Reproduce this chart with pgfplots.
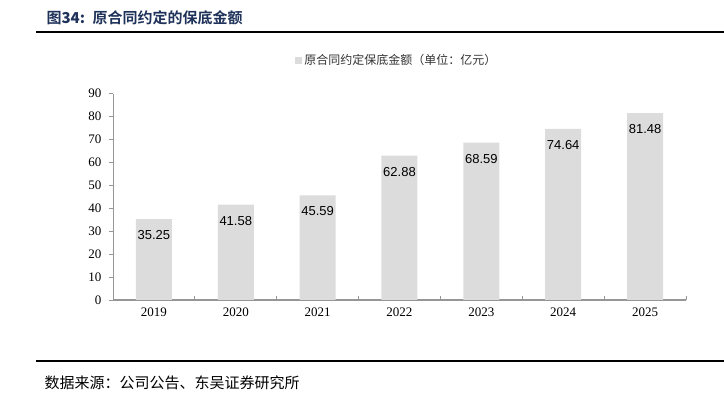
\documentclass[border=0pt]{standalone}
\usepackage{fontspec}
\usepackage{pgfplots}
\pgfplotsset{compat=1.18}
\setmainfont{Liberation Serif}
\newfontfamily\arial{Liberation Sans}
\newfontfamily\cjk{Noto Sans CJK SC}
\newfontfamily\cjkb{Noto Sans CJK SC Bold}
\definecolor{bargray}{RGB}{220,220,220}
\definecolor{axgray}{RGB}{150,150,150}
\definecolor{titleblue}{RGB}{31,50,90}
\begin{document}
\begin{tikzpicture}[x=1pt,y=1pt]
\path[use as bounding box] (0pt,0pt) rectangle (724pt,397pt);
\draw[line width=1.6pt] (36pt,365pt) -- (724pt,365pt);
\draw[line width=1.6pt] (36pt,36pt) -- (724pt,36pt);
\node[anchor=west,text=titleblue,font=\fontsize{15}{18}\selectfont] at (43pt,379pt) {\cjkb 图\textbf{34:}\hspace{0.5em}原合同约定的保底金额};
\node[anchor=west,font=\fontsize{15}{18}\selectfont] at (41pt,14pt) {\cjk 数据来源：公司公告、东吴证券研究所};
\begin{axis}[
  at={(113pt,97pt)}, anchor=south west,
  scale only axis, width=573pt, height=206.5pt,
  ybar, bar width=36pt,
  xmin=-0.5, xmax=6.5, ymin=0, ymax=90,
  ytick={0,10,...,90},
  xtick={0,...,6},
  xticklabels={2019,2020,2021,2022,2023,2024,2025},
  minor xtick={0.5,1.5,...,6.5},
  major x tick style={draw=none},
  minor x tick style={draw=axgray, line width=0.8pt},
  minor tick length=4pt,
  y tick style={draw=axgray, line width=0.8pt},
  major tick length=4pt,
  ytick align=outside, xtick align=inside,
  axis x line*=bottom, axis y line*=left,
  x axis line style={draw=axgray, line width=1.4pt, -},
  y axis line style={draw=axgray, line width=0.8pt, -},
  /pgf/number format/assume math mode=true,
  tick label style={font=\fontsize{13}{15}\selectfont, text=black},
  yticklabel style={xshift=-4pt},
  xticklabel style={yshift=-4pt},
  nodes near coords={\pgfmathprintnumber[fixed,fixed zerofill,precision=2,assume math mode=true]{\pgfplotspointmeta}},
  every node near coord/.append style={anchor=center, yshift=-16pt, font=\arial\fontsize{13}{15}\selectfont, text=black},
  legend style={at={(0.318,1.162)}, anchor=west, draw=none, fill=none, font=\cjk\fontsize{12}{14}\selectfont, text=black!80, inner sep=0pt},
  legend image code/.code={\fill[bargray] (0pt,-3.5pt) rectangle (7pt,3.5pt);},
  clip=false,
]
\addplot[fill=bargray, draw=none] coordinates {(0,35.25) (1,41.58) (2,45.59) (3,62.88) (4,68.59) (5,74.64) (6,81.48)};
\addlegendentry{原合同约定保底金额（单位：亿元）}
\end{axis}
\end{tikzpicture}
\end{document}
